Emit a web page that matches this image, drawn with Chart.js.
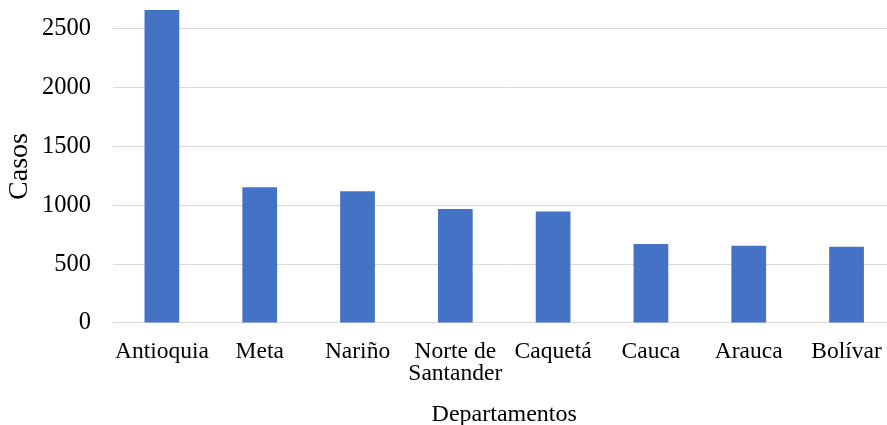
<!DOCTYPE html>
<html>
<head>
<meta charset="utf-8">
<script src="https://cdn.jsdelivr.net/npm/chart.js@4/dist/chart.umd.min.js"></script>
<style>
html,body{margin:0;padding:0;background:#fff;overflow:hidden;}
#wrap{position:absolute;left:0;top:0;width:900px;height:429px;}
</style>
</head>
<body>
<div id="wrap"><canvas id="c"></canvas></div>
<script>
const categories = ['Antioquia','Meta','Nariño',['Norte de','Santander'],'Caquetá','Cauca','Arauca','Bolívar'];
const casos = [2657,1153,1119,967,946,670,656,647];
const yTicks = [0,500,1000,1500,2000,2500];

const serif = "'Liberation Serif','Times New Roman',serif";
new Chart(document.getElementById('c'), {
  type: 'bar',
  data: {
    labels: categories,
    datasets: [{
      data: casos,
      backgroundColor: '#4472C4',
      borderWidth: 0,
      barPercentage: 0.355,
      categoryPercentage: 1.0
    }]
  },
  options: {
    responsive: true,
    maintainAspectRatio: false,
    animation: false,
    devicePixelRatio: 1,
    layout: { padding: { top: 10, right: 3.5, left: 0, bottom: 0 } },
    plugins: { legend: { display: false }, tooltip: { enabled: false } },
    scales: {
      x: {
        grid: { display: false, drawTicks: false },
        border: { display: true, color: '#d9d9d9', width: 1 },
        ticks: { color: '#000', font: { family: serif, size: 23.5, lineHeight: 0.92 }, padding: 18, maxRotation: 0, autoSkip: false },
        title: { display: true, text: 'Departamentos', color: '#000', font: { family: serif, size: 24 }, padding: { top: -2, bottom: 0 } }
      },
      y: {
        min: 0,
        max: 2657,
        afterBuildTicks: (s) => { s.ticks = yTicks.map(v => ({ value: v })); },
        afterFit: (s) => { s.width = 113; s.paddingTop = 0; s.paddingBottom = 0; },
        grid: { color: '#d9d9d9', lineWidth: 1, drawTicks: false },
        border: { display: false },
        ticks: { color: '#000', font: { family: serif, size: 24.5 }, padding: 22, callback: (v) => String(v) },
        title: { display: true, text: 'Casos', color: '#000', font: { family: serif, size: 28 }, padding: { top: 3, bottom: 0 } }
      }
    }
  }
});
</script>
</body>
</html>
